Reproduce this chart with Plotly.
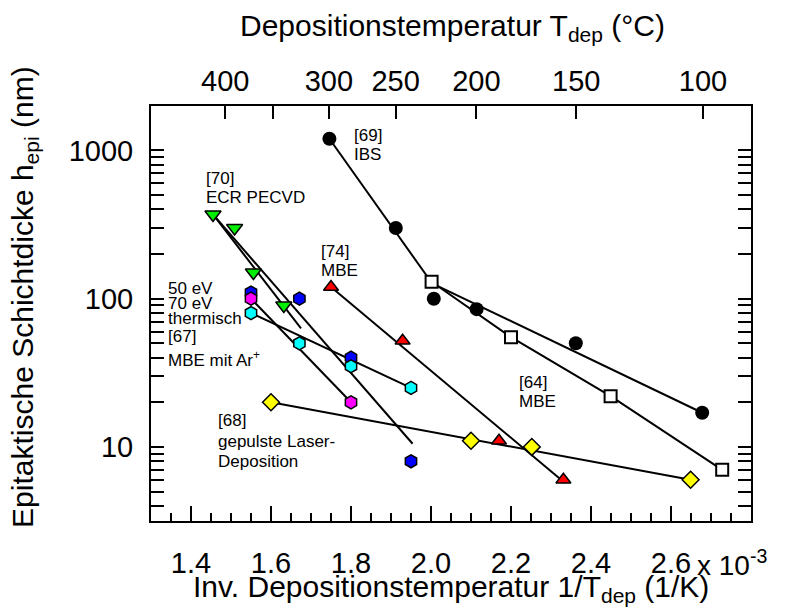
import plotly.graph_objects as go

# ---- data (x in units of 10^-3 1/K, y = epitaxial thickness in nm) ----
# [69] IBS
ibs_x = [1.746, 1.912, 2.007, 2.114, 2.362, 2.678]
ibs_y = [1200, 300, 100, 85, 50, 17]
ibs_steep_x = [1.746, 2.000]
ibs_steep_y = [1200, 130]
ibs_flat_x = [2.000, 2.678]
ibs_flat_y = [128, 17]

# [64] MBE
mbe64_x = [2.0015, 2.200, 2.449, 2.728]
mbe64_y = [130, 55, 22, 7]

# [70] ECR PECVD
ecr_x = [1.455, 1.509, 1.556, 1.632]
ecr_y = [370, 300, 150, 90]
ecr_fit_long_x = [1.455, 1.954]
ecr_fit_long_y = [370, 10.5]
ecr_fit_short_x = [1.455, 1.675]
ecr_fit_short_y = [370, 63]

# [74] MBE
mbe74_x = [1.750, 1.929, 2.170, 2.331]
mbe74_y = [120, 52, 11, 6]
mbe74_fit_x = [1.750, 2.335]
mbe74_fit_y = [120, 5.7]

# [67] MBE mit Ar+
ar50_x = [1.550, 1.671, 1.800, 1.950]
ar50_y = [110, 100, 40, 8]
ar70_x = [1.550, 1.800]
ar70_y = [100, 20]
therm_x = [1.550, 1.671, 1.800, 1.950]
therm_y = [80, 50, 35, 25]
therm_fit_x = [1.550, 1.950]
therm_fit_y = [80, 25]

# [68] gepulste Laser-Deposition
pld_x = [1.600, 2.100, 2.252, 2.649]
pld_y = [20, 11, 10, 6]

# axis ticks
x_ticks = [1.4, 1.6, 1.8, 2.0, 2.2, 2.4, 2.6]
y_ticks = [10, 100, 1000]
y_minor = [4, 5, 6, 7, 8, 9, 20, 30, 40, 50, 60, 70, 80, 90,
           200, 300, 400, 500, 600, 700, 800, 900]
top_temps_c = [400, 350, 300, 250, 200, 150, 100]
top_labels = ["400", "", "300", "250", "200", "150", "100"]
top_pos = [1000.0 / (t + 273.15) for t in top_temps_c]

FONT = "Liberation Sans, Arial, Helvetica, sans-serif"
LINE = dict(color="black", width=2)
OUT = dict(color="black", width=1.5)

fig = go.Figure()


def add_line(x, y):
    fig.add_trace(go.Scatter(x=x, y=y, mode="lines", line=LINE,
                             hoverinfo="skip", showlegend=False))


# fit / connecting lines
add_line(ibs_steep_x, ibs_steep_y)
add_line(ibs_flat_x, ibs_flat_y)
add_line(mbe64_x, mbe64_y)
add_line(ecr_fit_long_x, ecr_fit_long_y)
add_line(ecr_fit_short_x, ecr_fit_short_y)
add_line(mbe74_fit_x, mbe74_fit_y)
add_line(ar70_x, ar70_y)
add_line(therm_fit_x, therm_fit_y)
add_line([pld_x[0], pld_x[-1]], [pld_y[0], pld_y[-1]])


def add_markers(x, y, symbol, size, fill, outline=OUT):
    fig.add_trace(go.Scatter(
        x=x, y=y, mode="markers", showlegend=False,
        marker=dict(symbol=symbol, size=size, color=fill, line=outline)))


add_markers(ibs_x, ibs_y, "circle", 14, "black", dict(color="black", width=0))
add_markers(mbe64_x, mbe64_y, "square", 12, "white", dict(color="black", width=2))
add_markers(ecr_x, ecr_y, "triangle-down", 14, "#00ee00")
add_markers(mbe74_x, mbe74_y, "triangle-up", 13, "#ff0000")
add_markers(ar50_x, ar50_y, "hexagon", 13, "#0000ff")
add_markers(ar70_x, ar70_y, "hexagon", 13, "#ff00ff")
add_markers(therm_x, therm_y, "hexagon", 13, "#00ffff")
add_markers(pld_x, pld_y, "diamond", 13, "#ffff00")

# carrier for the top temperature axis
fig.add_trace(go.Scatter(x=top_pos, y=[None] * len(top_pos), xaxis="x2",
                         mode="markers", showlegend=False, hoverinfo="skip"))

fig.update_layout(
    width=788, height=610,
    margin=dict(l=151, r=37, t=106, b=89),
    plot_bgcolor="white", paper_bgcolor="white",
    showlegend=False,
    font=dict(family=FONT, size=29, color="black"),
    xaxis=dict(
        range=[1.3, 2.8], tickvals=x_ticks,
        ticktext=[f"{v:.1f}" for v in x_ticks],
        ticks="inside", ticklen=15, tickwidth=2, tickcolor="black",
        showline=True, linecolor="black", linewidth=2, mirror=True,
        showgrid=False, zeroline=False, ticklabelstandoff=15,
        minor=dict(dtick=0.05, tick0=1.3, ticks="inside", ticklen=8,
                   tickwidth=1.5, tickcolor="black", showgrid=False),
    ),
    xaxis2=dict(
        overlaying="x", side="top", anchor="y",
        range=[1.3, 2.8], tickvals=top_pos, ticktext=top_labels,
        ticks="inside", ticklen=13, tickwidth=2, tickcolor="black",
        showline=False, showgrid=False, zeroline=False,
        ticklabelstandoff=8,
    ),
    yaxis=dict(
        type="log", range=[0.5, 3.3],
        tickvals=y_ticks, ticktext=[str(v) for v in y_ticks],
        ticks="inside", ticklen=13, tickwidth=2, tickcolor="black",
        showline=True, linecolor="black", linewidth=2, mirror="allticks",
        showgrid=False, zeroline=False, ticklabelstandoff=10,
        minor=dict(tickvals=y_minor, ticks="inside", ticklen=7,
                   tickwidth=1.5, tickcolor="black", showgrid=False),
    ),
)

# axis titles
fig.add_annotation(text="Depositionstemperatur T<sub>dep</sub> (°C)",
                   xref="paper", yref="paper", x=0.502, y=1.19,
                   xanchor="center", yanchor="middle", showarrow=False,
                   font=dict(family=FONT, size=30))
fig.add_annotation(text="Inv. Depositionstemperatur 1/T<sub>dep</sub> (1/K)",
                   xref="paper", yref="paper", x=0.5, y=-0.163,
                   xanchor="center", yanchor="middle", showarrow=False,
                   font=dict(family=FONT, size=30))
fig.add_annotation(text="Epitaktische Schichtdicke h<sub>epi</sub> (nm)",
                   xref="paper", yref="paper", x=-0.21, y=0.54,
                   xanchor="center", yanchor="middle", textangle=-90,
                   showarrow=False, font=dict(family=FONT, size=30))
fig.add_annotation(text="x 10<sup>-3</sup>", xref="x", yref="paper",
                   x=2.66, y=-0.1, xanchor="left", yanchor="middle",
                   showarrow=False, font=dict(family=FONT, size=28))

# series labels (left edge x in pixels, centre y in pixels)
labels = [
    ("[69]", 352, 135), ("IBS", 352, 154),
    ("[70]", 204, 178), ("ECR PECVD", 204, 197),
    ("[74]", 319, 251), ("MBE", 319, 270),
    ("50 eV", 166, 288), ("70 eV", 166, 303), ("thermisch", 166, 318),
    ("[67]", 166, 336), ("MBE mit Ar<sup>+</sup>", 166, 359),
    ("[68]", 216, 420), ("gepulste Laser-", 216, 441), ("Deposition", 216, 461),
    ("[64]", 517, 382), ("MBE", 517, 401),
]
for txt, px, py in labels:
    fig.add_annotation(text=txt, xref="paper", yref="paper",
                       x=(px - 151) / 600, y=(521 - py) / 415,
                       xanchor="left", yanchor="middle", showarrow=False,
                       font=dict(family=FONT, size=17))

fig.write_html("out.html")
